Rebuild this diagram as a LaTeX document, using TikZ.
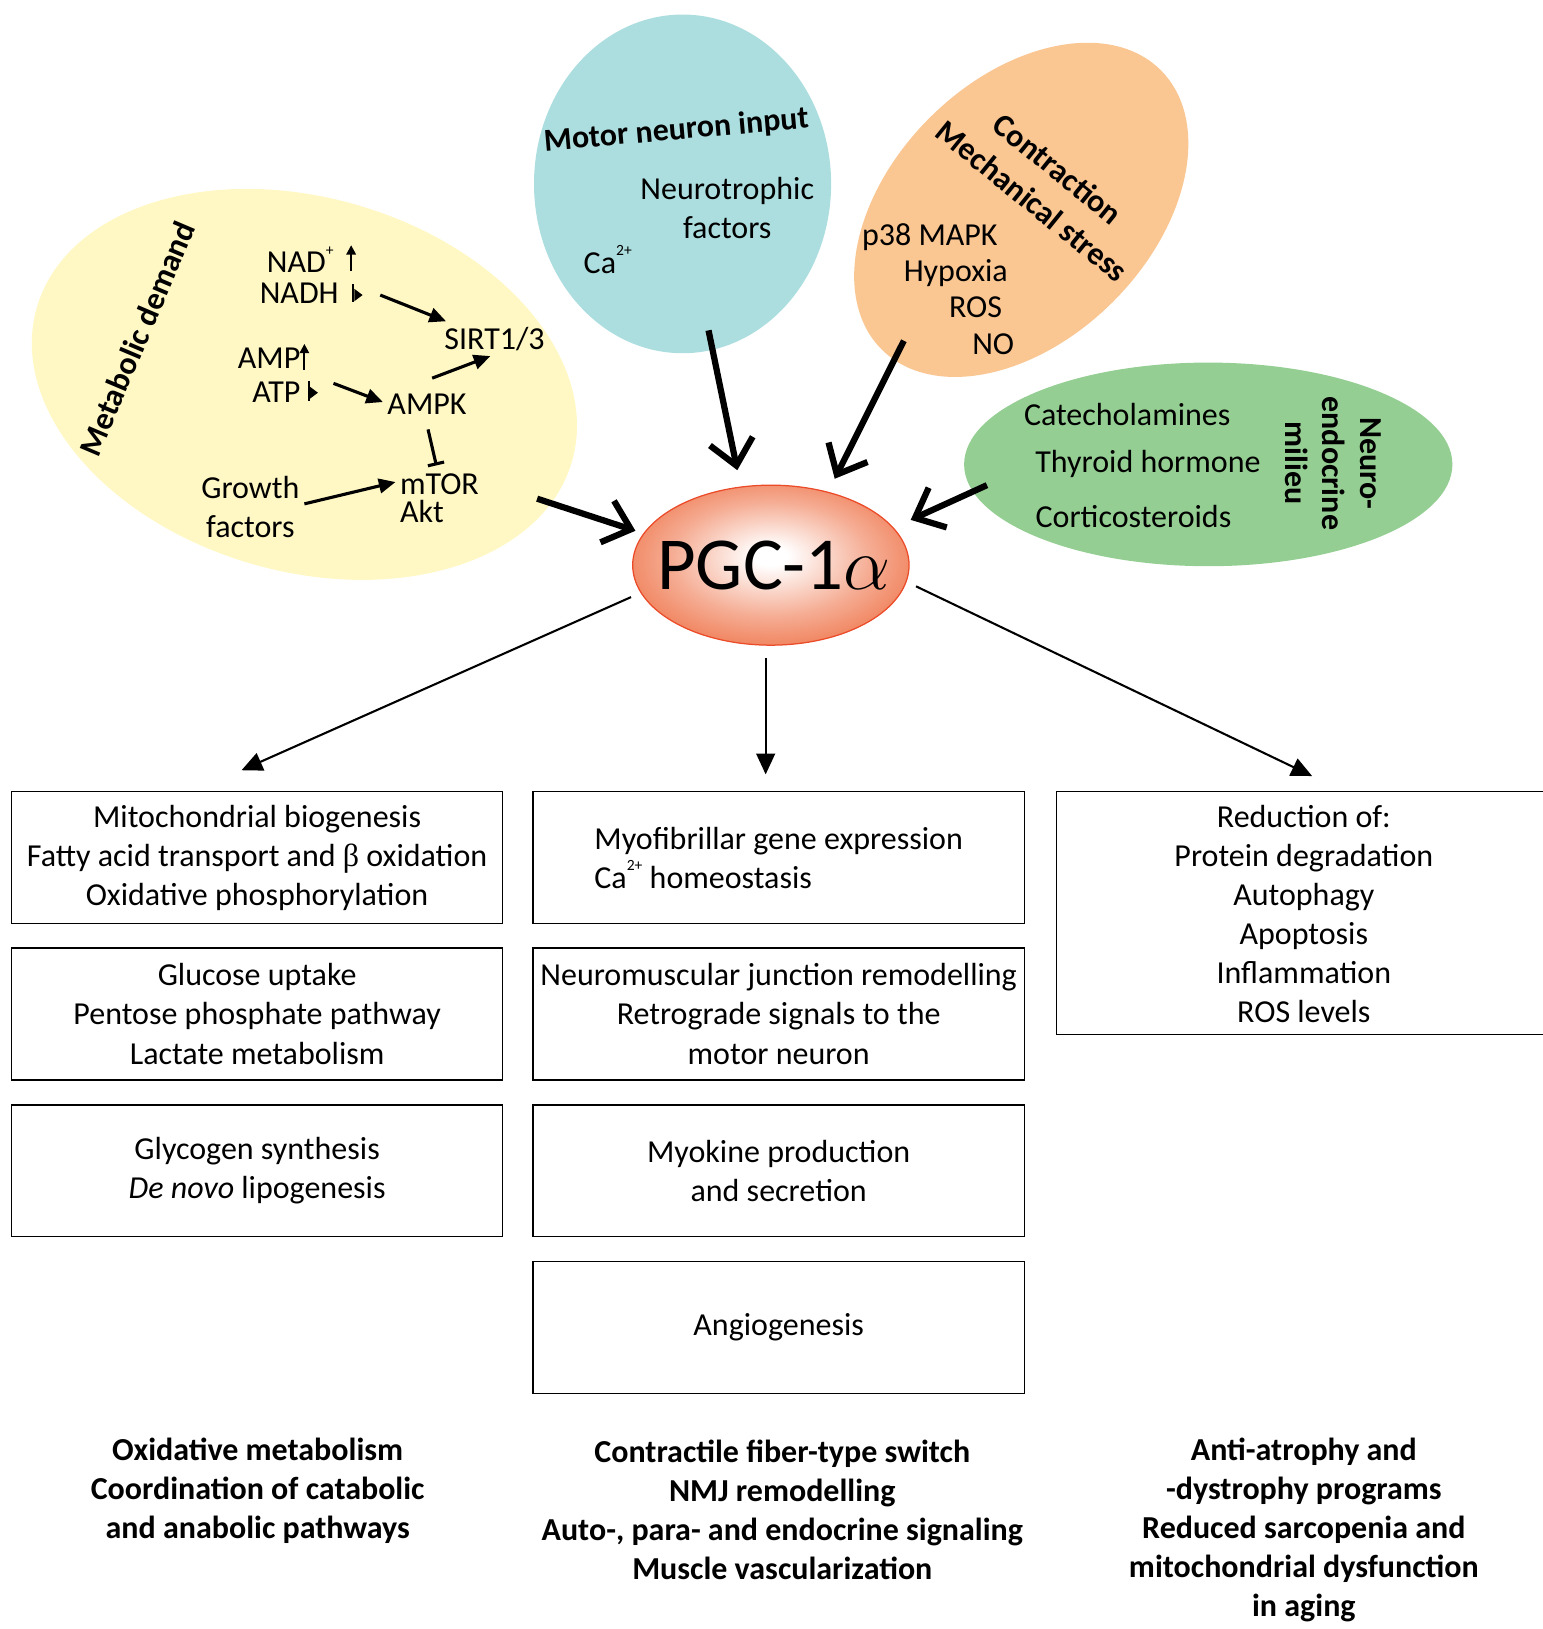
\documentclass[tikz,border=0pt]{standalone}
\usepackage{fix-cm}
\usepackage{fontspec}
\setmainfont{Carlito}
\newfontfamily\symfont{Liberation Serif}
\usetikzlibrary{arrows.meta,shapes.geometric,calc}
\definecolor{yel}{RGB}{255,248,197}
\definecolor{blu}{RGB}{173,222,223}
\definecolor{ora}{RGB}{250,198,146}
\definecolor{grn}{RGB}{148,206,146}
\definecolor{pgcred}{RGB}{236,96,48}
\definecolor{pgcedge}{RGB}{235,75,40}
\pgfdeclareradialshading{pgcshade}{\pgfpoint{0bp}{3bp}}{color(0bp)=(white); color(3bp)=(white); color(18bp)=(pgcred!52!white); color(35bp)=(pgcred); color(50bp)=(pgcred)}
\newcommand{\supsc}[1]{\raisebox{1.15ex}{\fontsize{7.5}{7.5}\selectfont #1}}
\begin{document}
\begin{tikzpicture}[x=0.5pt,y=-0.5pt,
  txt/.style={font=\fontsize{15.4}{18.8}\selectfont, inner sep=0pt, align=center},
  btxt/.style={font=\fontsize{15.4}{18.8}\selectfont\bfseries, inner sep=0pt, align=center},
  blob/.style={ellipse, inner sep=0pt},
  box/.style={draw, line width=0.6pt, minimum width=236.5pt, minimum height=63.5pt, inner sep=0pt, align=center, font=\fontsize{15.4}{18.8}\selectfont},
  sarr/.style={line width=1.5pt, -{Triangle[length=8pt,width=7pt]}},
  inh/.style={line width=1.5pt, -{Bar[width=8pt]}},
  big/.style={line width=3pt, -{Straight Barb[length=12pt,width=21pt]}},
  outarr/.style={line width=1pt, -{Triangle[length=10pt,width=9pt]}},
  tick/.style={line width=1pt}
]
\useasboundingbox (0,0) rectangle (1485,1568);

% ---------- source ellipses ----------
\node[blob, fill=yel, minimum width=268pt, minimum height=180pt, rotate=-16] (md) at (293,370) {};
\node[blob, fill=blu, minimum width=143pt, minimum height=163pt] (mn) at (657,177) {};
\node[blob, fill=ora, minimum width=190pt, minimum height=125pt, rotate=45] (cm) at (983,202) {};
\node[blob, fill=grn, minimum width=235pt, minimum height=98pt] (ne) at (1163,447) {};

% ---------- metabolic demand ----------
\node[btxt, rotate=67] (mdt) at (132,326) {Metabolic demand};
\node[txt] (nad) at (289,250) {NAD\supsc{+}};
\node[txt] (nadh) at (288,282) {NADH};
\node[txt] (amp) at (259,345) {AMP};
\node[txt] (atp) at (266,378) {ATP};
\node[txt] (sirt) at (476,326) {SIRT1/3};
\node[txt] (ampk) at (411,389) {AMPK};
\node[txt, align=left, font=\fontsize{15.4}{13.5}\selectfont] (mtor) at (423,480) {mTOR\\Akt};
\node[txt] (gf) at (241,488) {Growth\\factors};

\draw[tick, -{Triangle[length=4.5pt,width=4.5pt]}] (338,261) -- (338,236);
\draw[tick] (340,273) -- (340,291);
\fill (341,278) -- (349,284) -- (341,290) -- cycle;
\draw[tick, -{Triangle[length=4.5pt,width=4.5pt]}] (293,356) -- (293,331);
\draw[tick] (297,367) -- (297,386);
\fill (298,372) -- (306,378) -- (298,384) -- cycle;

\coordinate (c1) at (366,284);
\coordinate (c2) at (321,369);
\coordinate (c3) at (416,364);
\coordinate (c4) at (293,485);
\draw[sarr] (c1) -- ([shift={(2,-5)}]sirt.north west);
\draw[sarr] (c2) -- ([shift={(-4,-2)}]ampk.west);
\draw[sarr] (c3) -- ([shift={(-4,5)}]sirt.south);
\draw[inh] ([shift={(1,14)}]ampk.south) -- ([shift={(-3,-8)}]mtor.north);
\draw[sarr] (c4) -- ([shift={(-4,-16)}]mtor.west);

% ---------- motor neuron ----------
\node[btxt, rotate=5] (mnt) at (651,126) {Motor neuron input};
\node[txt] (ntf) at (700,200) {Neurotrophic\\factors};
\node[txt] (ca) at (585,250) {Ca\supsc{2+}};

% ---------- contraction ----------
\node[btxt, rotate=-39, font=\fontsize{15.4}{19.7}\selectfont\bfseries] (cont) at (1006,178) {Contraction\\Mechanical stress};
\node[txt] (p38) at (895,228) {p38 MAPK};
\node[txt] (hyp) at (920,263) {Hypoxia};
\node[txt] (ros) at (939,296) {ROS};
\node[txt] (no) at (956,331) {NO};

% ---------- neuroendocrine ----------
\node[txt] (cat) at (1085,399) {Catecholamines};
\node[txt] (thy) at (1105,447) {Thyroid hormone};
\node[txt] (cor) at (1091,497) {Corticosteroids};
\node[btxt, rotate=-90, font=\fontsize{15.4}{18}\selectfont\bfseries] (net) at (1283,446) {Neuro-\\endocrine\\milieu};

% ---------- PGC-1alpha ----------
\node[blob, minimum width=133pt, minimum height=77pt, draw=pgcedge, line width=0.6pt, shade, shading=pgcshade] (pgc) at (742,544) {};
\node[inner sep=0pt, font=\fontsize{36}{40}\selectfont] (pgct) at (745,544) {PGC-1$\alpha$};

% ---------- inputs to PGC ----------
\coordinate (s1) at (517,480);
\coordinate (s2) at (682,318);
\coordinate (s3) at (870,328);
\coordinate (s4) at (950,467);
\draw[big, shorten >=4pt] (s1) -- (pgc.166);
\draw[big, shorten >=8pt] (s2) -- (pgc.111);
\draw[big, shorten >=7pt] (s3) -- (pgc.52);
\draw[big, shorten >=9pt] (s4) -- (pgc.17);

% ---------- output boxes ----------
\node[box] (l1) at (247.5,825.5) {Mitochondrial biogenesis\\Fatty acid transport and {\symfont β} oxidation\\Oxidative phosphorylation};
\node[box] (l2) at (247.5,976) {Glucose uptake\\Pentose phosphate pathway\\Lactate metabolism};
\node[box] (l3) at (247.5,1127) {Glycogen synthesis\\\textit{De novo} lipogenesis};
\node[box, align=left] (m1) at (749.5,825.5) {Myofibrillar gene expression\\Ca\supsc{2+} homeostasis};
\node[box] (m2) at (749.5,976) {Neuromuscular junction remodelling\\Retrograde signals to the\\motor neuron};
\node[box] (m3) at (749.5,1127) {Myokine production\\and secretion};
\node[box] (m4) at (749.5,1278) {Angiogenesis};
\node[txt] (r1) at (1255,880) {Reduction of:\\Protein degradation\\Autophagy\\Apoptosis\\Inflammation\\ROS levels};
\draw[line width=0.6pt] (1490,762) -- (1017,762) -- (1017,996) -- (1490,996);

% ---------- outputs from PGC ----------
\draw[outarr, shorten <=5pt] (pgc.192) -- ([shift={(-15,-20)}]l1.north);
\draw[outarr] ([shift={(-5,12)}]pgc.south) -- ([shift={(-12.5,-16)}]m1.north);
\coordinate (rtip) at (1263,747);
\draw[outarr, shorten <=5pt] (pgc.-7) -- (rtip);

% ---------- conclusions ----------
\node[btxt] (bl) at (248,1435) {Oxidative metabolism\\Coordination of catabolic\\and anabolic pathways};
\node[btxt] (bm) at (753,1453.5) {Contractile fiber-type switch\\NMJ remodelling\\Auto-, para- and endocrine signaling\\Muscle vascularization};
\node[btxt] (br) at (1255,1472.5) {Anti-atrophy and\\-dystrophy programs\\Reduced sarcopenia and\\mitochondrial dysfunction\\in aging};
\end{tikzpicture}
\end{document}
